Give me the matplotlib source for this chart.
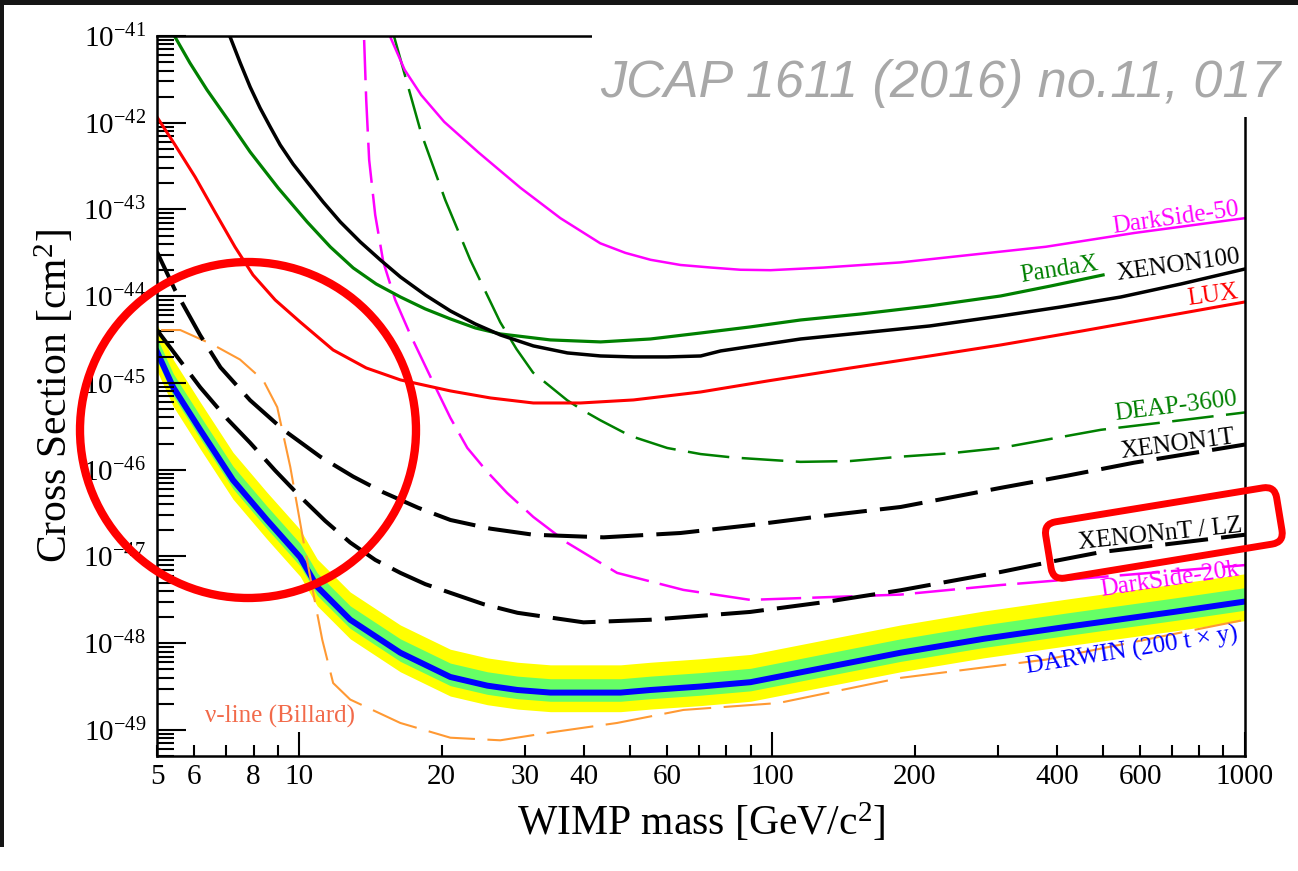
import numpy as np
import matplotlib.pyplot as plt
import matplotlib.transforms as mtransforms
from matplotlib.patches import Circle, FancyBboxPatch, Rectangle
from matplotlib.ticker import FixedLocator, FuncFormatter, NullFormatter

plt.rcParams['font.family'] = 'serif'
plt.rcParams['font.serif'] = ['Liberation Serif', 'DejaVu Serif']
plt.rcParams['mathtext.fontset'] = 'custom'
plt.rcParams['mathtext.rm'] = 'Liberation Serif'
plt.rcParams['mathtext.it'] = 'Liberation Serif:italic'
plt.rcParams['lines.scale_dashes'] = False

# WIMP mass [GeV/c^2] and log10(cross section / cm^2)
lux_m = [5.0, 5.46, 6.02, 6.63, 7.31, 7.98, 8.89, 10.04, 11.79, 13.85, 16.36, 20.87, 25.36, 31.25,
         39.33, 50.9, 70.6, 97.8, 146.6, 215.4, 304.4, 451.9, 664, 1000]
lux_s = [-41.934, -42.256, -42.625, -43.029, -43.432, -43.755, -44.043, -44.297, -44.620, -44.827,
         -44.965, -45.092, -45.173, -45.231, -45.231, -45.196, -45.104, -44.977, -44.827, -44.689,
         -44.562, -44.401, -44.239, -44.066]

pandax_m = [5.46, 5.87, 6.38, 7.07, 7.87, 9.02, 10.39, 11.63, 13.0, 14.54, 16.36, 18.47, 20.87, 23.56,
            26.63, 33.95, 43.36, 55.3, 70.6, 89.9, 114.9, 153.9, 215.4, 304.4, 388.3, 501]
pandax_s = [-41.012, -41.311, -41.622, -41.968, -42.337, -42.752, -43.144, -43.432, -43.674, -43.859,
            -44.009, -44.147, -44.262, -44.366, -44.435, -44.504, -44.527, -44.493, -44.424, -44.354,
            -44.274, -44.205, -44.112, -43.997, -43.882, -43.755]

xe100_m = [7.14, 7.50, 7.87, 8.26, 8.68, 9.11, 9.70, 10.39, 11.23, 12.21, 13.46, 14.84, 16.36, 18.47,
           20.87, 23.56, 26.63, 31.25, 36.9, 43.36, 50.9, 60.05, 70.6, 77.8, 94.5, 114.9, 153.9,
           215.4, 304.4, 407.7, 546.3, 732, 1000]
xe100_s = [-41.012, -41.311, -41.588, -41.830, -42.049, -42.256, -42.476, -42.683, -42.914, -43.144,
           -43.375, -43.582, -43.778, -43.986, -44.170, -44.320, -44.447, -44.573, -44.654, -44.689,
           -44.700, -44.700, -44.689, -44.631, -44.562, -44.493, -44.424, -44.343, -44.228, -44.124,
           -44.009, -43.859, -43.686]

ds50_m = [15.57, 16.7, 18.1, 20.25, 23.9, 29.35, 35.65, 43.3, 48.9, 55.3, 64.0, 74.4, 85.7, 99.2,
          128.4, 187, 379, 585, 1000]
ds50_s = [-41.01, -41.39, -41.68, -41.99, -42.34, -42.75, -43.10, -43.39, -43.50, -43.58, -43.64,
          -43.67, -43.695, -43.70, -43.67, -43.61, -43.43, -43.27, -43.10]

ds20k_m = [13.71, 13.85, 14.05, 14.47, 15.05, 15.95, 17.18, 19.21, 20.87, 22.66, 24.98, 27.5, 31.25,
           36.9, 47.0, 64.9, 89.9, 187, 304, 513, 1000]
ds20k_s = [-41.046, -41.738, -42.429, -43.063, -43.605, -44.043, -44.447, -45.000, -45.403, -45.749,
           -46.026, -46.268, -46.545, -46.844, -47.19, -47.386, -47.501, -47.44, -47.33, -47.23,
           -47.10]

deap_m = [15.87, 18.1, 20.35, 22.98, 26.6, 28.8, 31.2, 36.86, 39.9, 43.3, 50.1, 60.0, 70.6, 82.8,
          114.8, 146.6, 187, 239, 304, 496, 707, 1000]
deap_s = [-41.01, -42.12, -42.89, -43.58, -44.30, -44.61, -44.88, -45.20, -45.32, -45.43, -45.61,
          -45.75, -45.82, -45.86, -45.91, -45.90, -45.85, -45.81, -45.75, -45.54, -45.44, -45.34]

xe1t_m = [5.0, 5.46, 6.17, 6.81, 7.87, 9.25, 11.07, 13.0, 15.04, 17.85, 20.87, 25.36, 31.25, 44.0,
          64.0, 89.9, 129.7, 187, 304, 420, 582, 1000]
xe1t_s = [-43.49, -43.93, -44.45, -44.82, -45.20, -45.54, -45.85, -46.08, -46.26, -46.44, -46.58,
          -46.68, -46.75, -46.78, -46.73, -46.64, -46.53, -46.43, -46.21, -46.07, -45.92, -45.71]

xent_m = [5.0, 6.17, 7.04, 7.87, 8.89, 10.04, 11.34, 12.81, 14.47, 16.36, 18.47, 20.87, 24.5, 28.93,
          39.9, 55.3, 89.9, 129.7, 187, 304, 398, 496, 707, 1000]
xent_s = [-44.39, -45.05, -45.415, -45.69, -46.01, -46.31, -46.59, -46.84, -47.04, -47.19, -47.32,
          -47.42, -47.55, -47.65, -47.76, -47.73, -47.64, -47.525, -47.39, -47.18, -47.05, -46.95,
          -46.85, -46.75]

nu_m = [5.1, 5.6, 6.57, 7.49, 8.39, 8.98, 9.57, 10.19, 10.70, 11.18, 11.79, 12.81, 16.35, 20.86, 26.6,
        33.9, 47.0, 64.9, 103.2, 187, 379, 1000]
nu_s = [-44.39, -44.39, -44.56, -44.73, -44.97, -45.28, -45.97, -46.81, -47.42, -47.96, -48.46, -48.65,
        -48.92, -49.09, -49.12, -49.03, -48.92, -48.77, -48.69, -48.40, -48.19, -47.73]

darwin_m = [5.0, 5.41, 6.17, 7.24, 8.54, 10.04, 10.91, 12.81, 16.35, 20.86, 24.98, 28.93, 33.95, 39.9,
            47.8, 55.3, 70.6, 90.0, 129.7, 187, 280, 422, 707, 1000]
darwin_s = [-44.64, -45.05, -45.54, -46.12, -46.58, -47.01, -47.35, -47.73, -48.11, -48.39, -48.49,
            -48.54, -48.57, -48.57, -48.57, -48.54, -48.50, -48.45, -48.28, -48.11, -47.95, -47.81,
            -47.64, -47.52]
darwin_2s_hi = [-44.32, -44.73, -45.22, -45.80, -46.26, -46.69, -47.03, -47.41, -47.79, -48.07, -48.17,
                -48.22, -48.25, -48.25, -48.25, -48.22, -48.18, -48.13, -47.96, -47.79, -47.63,
                -47.49, -47.32, -47.20]
darwin_1s_hi = [-44.48, -44.89, -45.38, -45.96, -46.42, -46.85, -47.19, -47.57, -47.95, -48.23, -48.33,
                -48.38, -48.41, -48.41, -48.41, -48.38, -48.34, -48.29, -48.12, -47.95, -47.79,
                -47.65, -47.48, -47.36]
darwin_1s_lo = [-44.74, -45.15, -45.64, -46.22, -46.68, -47.11, -47.45, -47.83, -48.21, -48.49, -48.59,
                -48.64, -48.67, -48.67, -48.67, -48.64, -48.60, -48.55, -48.38, -48.21, -48.05,
                -47.91, -47.74, -47.62]
darwin_2s_lo = [-44.86, -45.27, -45.76, -46.34, -46.80, -47.23, -47.57, -47.95, -48.33, -48.61, -48.71,
                -48.76, -48.79, -48.79, -48.79, -48.76, -48.72, -48.67, -48.50, -48.33, -48.17,
                -48.03, -47.86, -47.74]

x_labelled = [5, 6, 8, 20, 30, 40, 60, 200, 400, 600]


def sig(v):
    return 10.0 ** np.asarray(v)


fig = plt.figure(figsize=(12.98, 8.71), dpi=100)
ax = fig.add_axes([157 / 1298, 115 / 871, 1088 / 1298, 720 / 871])
ax.set_xscale('log')
ax.set_yscale('log')

# DARWIN band
ax.fill_between(darwin_m, sig(darwin_2s_lo), sig(darwin_2s_hi), color='#ffff00', lw=0, zorder=1)
ax.fill_between(darwin_m, sig(darwin_1s_lo), sig(darwin_1s_hi), color='#66ff66', lw=0, zorder=1.1)
ax.plot(darwin_m, sig(darwin_s), color='#0000ff', lw=4.3, zorder=1.2)

ax.plot(nu_m, sig(nu_s), color='#ff9933', lw=1.5, dashes=(34, 9))
ax.plot(ds20k_m, sig(ds20k_s), color='#ff00ff', lw=1.8, dashes=(29, 8))
ax.plot(deap_m, sig(deap_s), color='#008000', lw=1.8, dashes=(30, 9))
ax.plot(xent_m, sig(xent_s), color='black', lw=2.9, dashes=(31, 9.5))
ax.plot(xe1t_m, sig(xe1t_s), color='black', lw=2.9, dashes=(31, 9.5))
ax.plot(ds50_m, sig(ds50_s), color='#ff00ff', lw=1.8)
ax.plot(lux_m, sig(lux_s), color='#ff0000', lw=2.2)
ax.plot(pandax_m, sig(pandax_s), color='#008000', lw=2.3)
ax.plot(xe100_m, sig(xe100_s), color='black', lw=2.5)

ax.set_xlim(5, 1000)
ax.set_ylim(5e-50, 1e-41)

# curve labels
lab = dict(transform=ax.transAxes, rotation_mode='anchor', ha='right', va='baseline', size=18)
ax.text(0.995, 0.751, 'DarkSide-50', color='#ff00ff', rotation=8, **lab)
ax.text(0.866, 0.675, 'PandaX', color='#008000', rotation=9, **lab)
ax.text(0.996, 0.685, 'XENON100', color='black', rotation=8, **lab)
ax.text(0.994, 0.636, 'LUX', color='#ff0000', rotation=8, **lab)
ax.text(0.993, 0.4875, 'DEAP-3600', color='#008000', rotation=7, **lab)
ax.text(0.991, 0.435, 'XENON1T', color='black', rotation=7.5, **lab)
ax.text(0.998, 0.311, 'XENONnT / LZ', color='black', rotation=6, **lab)
ax.text(0.995, 0.251, 'DarkSide-20k', color='#ff00ff', rotation=8.5, **lab)
ax.text(0.994, 0.161, 'DARWIN (200 t \u00d7 y)', color='#0000ff', rotation=9, **lab)
ax.text(0.044, 0.046, '\u03bd-line (Billard)', color='#f26a4a', transform=ax.transAxes,
        ha='left', va='baseline', size=18)

# axes and ticks
for s in ax.spines.values():
    s.set_linewidth(1.8)

ax.xaxis.set_major_locator(FixedLocator([10, 100, 1000]))
ax.xaxis.set_minor_locator(FixedLocator([5, 6, 7, 8, 9, 20, 30, 40, 50, 60, 70, 80, 90,
                                         200, 300, 400, 500, 600, 700, 800, 900]))
ax.xaxis.set_major_formatter(FuncFormatter(lambda v, p: '%g' % v))
ax.xaxis.set_minor_formatter(FuncFormatter(lambda v, p: '%g' % v if round(v) in x_labelled else ''))

y_major = [10.0 ** e for e in range(-49, -40)]
y_minor = [k * 10.0 ** e for e in range(-50, -41) for k in range(2, 10) if k * 10.0 ** e >= 5e-50]
ax.yaxis.set_major_locator(FixedLocator(y_major))
ax.yaxis.set_minor_locator(FixedLocator(y_minor))
ax.yaxis.set_major_formatter(FuncFormatter(lambda v, p: r'$10^{%d}$' % round(np.log10(v))))
ax.yaxis.set_minor_formatter(NullFormatter())

ax.tick_params(axis='x', which='major', direction='in', length=17, width=1.5, labelsize=21,
               pad=6, top=False)
ax.tick_params(axis='x', which='minor', direction='in', length=8, width=1.5, labelsize=21,
               pad=6, top=False)
ax.tick_params(axis='y', which='major', direction='in', length=21, width=1.5, labelsize=21,
               pad=8, right=False)
ax.tick_params(axis='y', which='minor', direction='in', length=12, width=1.5, right=False)

ax.set_xlabel('WIMP mass [GeV/c$^2$]', size=30)
ax.set_ylabel('Cross Section [cm$^2$]', size=30)
ax.xaxis.set_label_coords(0.5, -0.063)
ax.yaxis.set_label_coords(-0.074, 0.5)

# title over a white box that hides the top right corner of the frame
fig.add_artist(Rectangle((5.92, 7.54), 7.06, 1.17, transform=fig.dpi_scale_trans,
                         fc='white', ec='none', zorder=5))
fig.text(600 / 1298, (871 - 97) / 871, 'JCAP 1611 (2016) no.11, 017', family='Liberation Sans',
         style='italic', size=37.5, color='#a8a8a8', zorder=6)

# red highlight marks
fig.add_artist(Circle((2.48, 4.41), 1.68, transform=fig.dpi_scale_trans, fill=False,
                      ec='#ff0000', lw=6, zorder=8))
box_tr = mtransforms.Affine2D().rotate_deg(9.3).translate(10.53, 2.91) + fig.dpi_scale_trans
fig.add_artist(FancyBboxPatch((0, 0), 2.34, 0.57, boxstyle='round,pad=0,rounding_size=0.12',
                              transform=box_tr, fill=False, ec='#ff0000', lw=5, zorder=8))

# dark screen edge
fig.add_artist(Rectangle((0, 8.66), 12.98, 0.05, transform=fig.dpi_scale_trans,
                         fc='#151515', ec='none', zorder=9))
fig.add_artist(Rectangle((0, 0.24), 0.04, 8.47, transform=fig.dpi_scale_trans,
                         fc='#151515', ec='none', zorder=9))

fig.savefig('out.png', dpi=100)
